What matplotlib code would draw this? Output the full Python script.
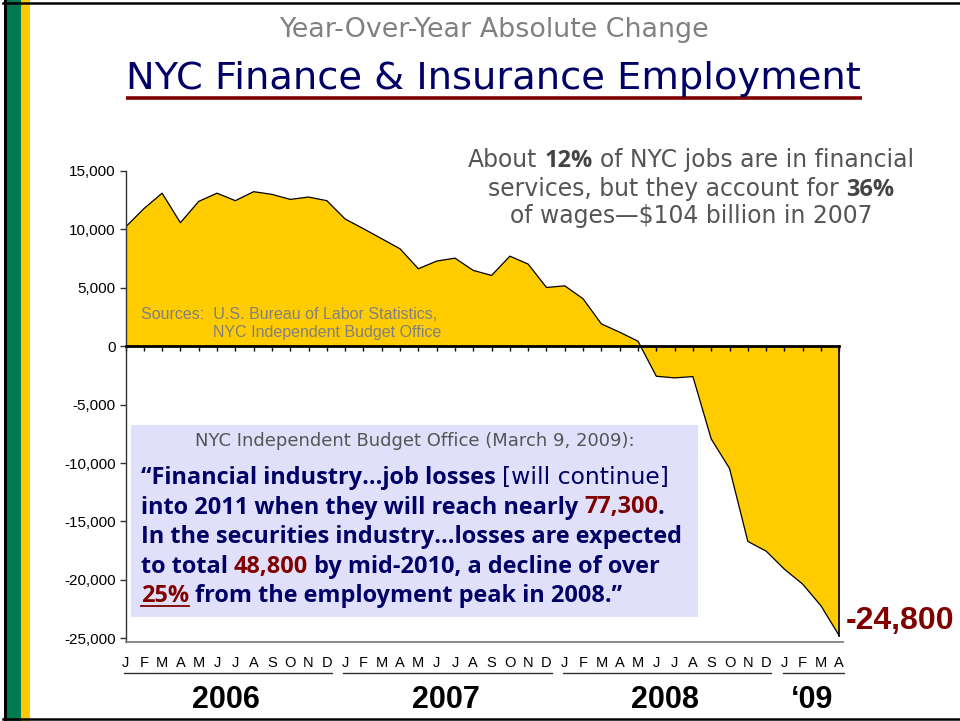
import matplotlib
matplotlib.use('Agg')
import matplotlib.pyplot as plt
from matplotlib.transforms import blended_transform_factory
from matplotlib.patches import Rectangle
from matplotlib.lines import Line2D
from matplotlib import font_manager as fm

# ---------------- data ----------------
month_letters = ['J', 'F', 'M', 'A', 'M', 'J', 'J', 'A', 'S', 'O', 'N', 'D'] * 3 + ['J', 'F', 'M', 'A']
values = [10200, 11770, 13100, 10570, 12400, 13100, 12460, 13230, 13000, 12570, 12770, 12460,
          10890, 10060, 9200, 8340, 6630, 7290, 7540, 6490, 6060, 7710, 7030, 5030,
          5170, 4060, 1910, 1200, 430, -2570, -2710, -2600, -7940, -10460, -16710, -17540,
          -19090, -20370, -22230, -24800]
year_labels = ['2006', '2007', '2008', '\u201809']
year_first = [0, 12, 24, 36]
year_last = [11, 23, 35, 39]
yticks = [-25000, -20000, -15000, -10000, -5000, 0, 5000, 10000, 15000]

subtitle = 'Year-Over-Year Absolute Change'
title = 'NYC Finance & Insurance Employment'
sources = ['Sources:  U.S. Bureau of Labor Statistics,', 'NYC Independent Budget Office']
box_header = 'NYC Independent Budget Office (March 9, 2009):'


def pick_bold_family(cands):
    for c in cands:
        try:
            f = fm.findfont(fm.FontProperties(family=c, weight='bold'), fallback_to_default=False)
        except Exception:
            continue
        name = f.lower()
        if 'bold' in name and 'italic' not in name:
            return c
    return 'DejaVu Sans'


# ---------------- figure ----------------
W, H = 960, 721
fig = plt.figure(figsize=(W / 100, H / 100), dpi=100)
fig.patch.set_facecolor('white')
renderer = fig.canvas.get_renderer()


def px(x):
    return x / W


def py(y):
    return 1 - y / H


def text_width(s, **kw):
    t1 = fig.text(0, 0, '|' + s + '|', **kw)
    t2 = fig.text(0, 0, '||', **kw)
    w = t1.get_window_extent(renderer).width - t2.get_window_extent(renderer).width
    t1.remove()
    t2.remove()
    return w


def segs_widths(segs, size):
    return [text_width(s, fontsize=size, **p) for s, p in segs]


def fit_size(segs, target, ref=20.0):
    return ref * target / sum(segs_widths(segs, ref))


def draw_segs(segs, x, y, size, align='left'):
    ws = segs_widths(segs, size)
    total = sum(ws)
    if align == 'center':
        x = x - total / 2
    ext = []
    for (s, p), w in zip(segs, ws):
        lead = len(s) - len(s.lstrip(' '))
        off = text_width(' ' * lead, fontsize=size, **p) if lead else 0
        fig.text(px(x + off), py(y), s.strip(' '), fontsize=size, va='baseline', ha='left', **p)
        ext.append((x + off, x + w))
        x += w
    return ext


# ---------- frame decoration ----------
fig.add_artist(Rectangle((px(6), 0), px(20.7) - px(6), 1, transform=fig.transFigure,
                         facecolor='#007A52', edgecolor='none'))
fig.add_artist(Rectangle((px(20.7), 0), px(30) - px(20.7), 1, transform=fig.transFigure,
                         facecolor='#FFC800', edgecolor='none'))
fig.add_artist(Line2D([px(4.5), px(4.5)], [0, 1], transform=fig.transFigure, color='black', lw=2.2))
fig.add_artist(Line2D([px(3), 1], [py(3), py(3)], transform=fig.transFigure, color='black', lw=1.8))
fig.add_artist(Line2D([px(3), 1], [py(718.5), py(718.5)], transform=fig.transFigure, color='black', lw=1.8))

# ---------- titles ----------
DV = 'DejaVu Sans'
BF = pick_bold_family(['Open Sans', 'Noto Sans', 'Lato', 'Roboto', 'Inter'])
sub_segs = [(subtitle, dict(family=DV, color='#808080'))]
draw_segs(sub_segs, 493.5, 37, fit_size(sub_segs, 430), align='center')
tit_segs = [(title, dict(family=DV, color='#000066'))]
draw_segs(tit_segs, 493, 89, fit_size(tit_segs, 734), align='center')
fig.add_artist(Line2D([px(126), px(862)], [py(98), py(98)], transform=fig.transFigure,
                      color='#800000', lw=2.6, solid_capstyle='butt'))

# ---------- axes ----------
ax = fig.add_axes([px(125.5), py(642), px(843) - px(125.5), (642 - 171) / H])
ax.set_facecolor('none')
x = list(range(len(values)))
ax.fill_between(x, values, 0, facecolor='#FFCC00', edgecolor='none', zorder=1)
ax.plot(x, values, color='black', lw=0.9, zorder=2)
ax.plot([x[-1], x[-1]], [0, values[-1]], color='black', lw=1.2, zorder=2)
ax.set_xlim(0, 39.2)
ax.set_ylim(-25320, 15000)

for s in ['top', 'right']:
    ax.spines[s].set_visible(False)
ax.spines['left'].set_color('#333333')
ax.spines['left'].set_linewidth(1.0)
ax.spines['bottom'].set_position(('data', 0))
ax.spines['bottom'].set_color('black')
ax.spines['bottom'].set_linewidth(2.0)
ax.spines['bottom'].set_bounds(0, x[-1])
ax.spines['bottom'].set_zorder(3)
ax.set_xticks(x)
ax.set_xticklabels([])
ax.tick_params(axis='x', direction='out', length=3.5, width=1, color='black')
ax.set_yticks(yticks)
ax.set_yticklabels([f'{v:,}' for v in yticks], fontsize=11, family='Liberation Sans')
ax.tick_params(axis='y', direction='out', length=4, width=1, color='#333333', pad=3)
ax.plot([0, 1], [0, 0], transform=ax.transAxes, color='#808080', lw=1.3, clip_on=False, zorder=3)

# end-value label
ax.annotate(f'{values[-1]:,}', xy=(x[-1], values[-1]), xytext=(6, 7), textcoords='offset pixels',
            ha='left', va='baseline', fontsize=23, fontweight='bold', color='#800000',
            family='Liberation Sans', annotation_clip=False)

# month letters, underlines and years
trans = blended_transform_factory(ax.transData, fig.transFigure)
for i, m in enumerate(month_letters):
    ax.text(i, py(666.7), m, transform=trans, ha='center', va='baseline',
            fontsize=10.5, family='Liberation Sans', color='black')
for lab, s, e in zip(year_labels, year_first, year_last):
    ax.add_line(Line2D([s - 0.1, e + 0.28], [py(673.3)] * 2, transform=trans,
                       color='#333333', lw=1.0, clip_on=False))
    ax.text((s + e) / 2, py(708), lab, transform=trans, ha='center', va='baseline',
            fontsize=22, fontweight='bold', family='Liberation Sans', color='black')

# sources
src_kw = dict(family='Liberation Sans', color='#808080')
src_size = fit_size([(sources[1], src_kw)], 227)
draw_segs([(sources[0], src_kw)], 141, 319, src_size)
draw_segs([(sources[1], src_kw)], 212.7, 337.3, src_size)

# ---------- right annotation ----------
gN = dict(family=DV, color='#555555')
gB = dict(family=BF, color='#444444', fontweight='bold')
ann_lines = [
    [('About ', gN), ('12%', gB), (' of NYC jobs are in financial', gN)],
    [('services, but they account for ', gN), ('36%', gB)],
    [('of wages\u2014$104 billion in 2007', gN)],
]
ann_size = fit_size(ann_lines[0], 447)
for segs, yb in zip(ann_lines, [166.7, 195.7, 223.3]):
    draw_segs(segs, 691, yb, ann_size, align='center')

# ---------- quote box ----------
fig.add_artist(Rectangle((px(131), py(617)), px(698) - px(131), (617 - 425) / H,
                         transform=fig.transFigure, facecolor='#E0E0FA', edgecolor='none', zorder=0.5))
hdr = [(box_header, dict(family=DV, color='#555555'))]
draw_segs(hdr, 415, 446, fit_size(hdr, 440), align='center')

NB = dict(family=BF, fontweight='bold', color='#000066')
RB = dict(family=BF, fontweight='bold', color='#800000')
NL = dict(family=DV, fontweight='normal', color='#000066')
box_lines = [
    [('\u201cFinancial industry\u2026job losses ', NB), ('[will continue]', NL)],
    [('into 2011 when they will reach nearly ', NB), ('77,300', RB), ('.', NB)],
    [('In the securities industry\u2026losses are expected', NB)],
    [('to total ', NB), ('48,800', RB), (' by mid-2010, a decline of over', NB)],
    [('25%', RB), (' from the employment peak in 2008.\u201d', NB)],
]
box_size = fit_size(box_lines[2], 541)
box_base = [484, 513.5, 543, 573, 602.5]
for k, (segs, yb) in enumerate(zip(box_lines, box_base)):
    ext = draw_segs(segs, 140.7, yb, box_size)
    if k == 4:
        x0, x1 = ext[0]
        fig.add_artist(Line2D([px(x0), px(x1)], [py(yb + 3.5), py(yb + 3.5)],
                              transform=fig.transFigure, color='#800000', lw=1.3))

fig.savefig('out.png', dpi=100, facecolor='white')
